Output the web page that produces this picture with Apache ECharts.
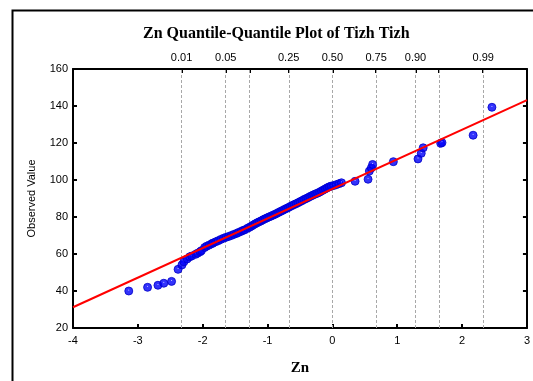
<!DOCTYPE html>
<html>
<head>
<meta charset="utf-8">
<script src="https://cdn.jsdelivr.net/npm/echarts@6/dist/echarts.min.js"></script>
<style>html,body{margin:0;padding:0;background:#fff}#c{width:533px;height:381px}</style>
</head>
<body>
<div id="c"></div>
<script>
// Theoretical normal quantiles (x) and observed values (y)
const qqX = [-3.14,-2.85,-2.69,-2.60,-2.48,-2.38,-2.32,-2.29,-2.24,-2.20,-2.17,-2.11,-2.08,-2.04,-2.02,-1.97,-1.94,-1.90,-1.86,-1.84,-1.80,-1.76,-1.72,-1.68,-1.64,-1.60,-1.56,-1.52,-1.48,-1.45,-1.41,-1.38,-1.35,-1.31,-1.28,-1.25,-1.22,-1.19,-1.16,-1.13,-1.10,-1.07,-1.04,-1.01,-0.98,-0.95,-0.92,-0.89,-0.86,-0.83,-0.80,-0.77,-0.74,-0.71,-0.68,-0.65,-0.62,-0.59,-0.56,-0.53,-0.50,-0.47,-0.44,-0.41,-0.38,-0.35,-0.32,-0.29,-0.26,-0.23,-0.20,-0.17,-0.14,-0.11,-0.08,-0.05,-0.02,0.02,0.06,0.10,0.14,0.35,0.55,0.57,0.60,0.62,0.94,1.32,1.37,1.40,1.67,1.69,2.17,2.46];
const qqY = [40.0,42.0,43.1,44.2,45.2,51.7,54.1,55.8,57.3,58.5,58.9,59.8,60.4,61.2,61.8,63.5,64.2,64.8,65.6,65.9,66.6,67.2,67.9,68.5,69.0,69.5,70.0,70.6,71.1,71.6,72.2,72.7,73.1,73.9,74.4,75.0,75.7,76.3,76.9,77.4,77.9,78.5,79.0,79.5,80.0,80.4,80.9,81.4,81.9,82.5,83.0,83.5,84.1,84.6,85.1,85.7,86.2,86.7,87.2,87.7,88.3,88.8,89.4,89.9,90.4,91.0,91.5,92.0,92.5,92.9,93.4,94.0,94.6,95.2,95.8,96.3,96.7,97.0,97.5,98.0,98.5,99.3,100.4,104.8,106.5,108.4,109.9,111.4,114.4,117.4,119.8,120.2,124.2,139.3];

// Fitted reference line
const fitIntercept = 95.2;
const fitSlope = 16.0;

// Axis ranges
const xMin = -4, xMax = 3, xStep = 1;
const yMin = 20, yMax = 160, yStep = 20;

// Probability scale along the top
const gridProbs = ['0.01','0.05','0.10','0.25','0.50','0.75','0.90','0.95','0.99'];
const gridZ = [-2.326,-1.645,-1.282,-0.674,0,0.674,1.282,1.645,2.326];
const labelProbs = ['0.01','0.05','0.25','0.50','0.75','0.90','0.99'];
const labelZ = [-2.326,-1.645,-0.674,0,0.674,1.282,2.326];

const points = qqX.map((x, i) => [x, qqY[i]]);
const fitData = [[xMin, fitIntercept + fitSlope * xMin], [xMax, fitIntercept + fitSlope * xMax]];

const sans = 'Liberation Sans, Arial, sans-serif';
const serif = 'Liberation Serif, Times New Roman, serif';

const chart = echarts.init(document.getElementById('c'), null, {renderer: 'canvas'});
chart.setOption({
  animation: false,
  backgroundColor: '#fff',
  graphic: [{
    type: 'rect', left: 10, top: 8, z: 100,
    shape: {x: 0, y: 0, width: 700, height: 700},
    style: {fill: 'none', stroke: '#000', lineWidth: 2}
  }],
  title: {
    text: 'Zn Quantile-Quantile Plot of Tizh Tizh',
    left: 138, top: 21,
    textStyle: {fontFamily: serif, fontWeight: 'bold', fontSize: 16, color: '#000'}
  },
  grid: {left: 73, right: 6, top: 69, bottom: 53, containLabel: false},
  xAxis: [{
    type: 'value', position: 'bottom', min: xMin, max: xMax, interval: xStep,
    name: 'Zn', nameLocation: 'middle', nameGap: 33,
    nameTextStyle: {fontFamily: serif, fontWeight: 'bold', fontSize: 15, color: '#000'},
    axisLine: {show: true, onZero: false, lineStyle: {color: '#000', width: 2}},
    axisTick: {show: true, inside: true, length: 4, lineStyle: {color: '#000', width: 2}},
    axisLabel: {fontFamily: sans, fontSize: 11, color: '#000', margin: 7},
    splitLine: {show: false}
  }, {
    type: 'value', position: 'top', min: xMin, max: xMax,
    axisLine: {show: true, onZero: false, lineStyle: {color: '#000', width: 2}},
    axisTick: {show: true, inside: true, length: 4, customValues: gridZ, lineStyle: {color: '#000', width: 2}},
    axisLabel: {
      show: true, customValues: labelZ, fontFamily: sans, fontSize: 11, color: '#000', margin: 6,
      formatter: function (v) {
        let best = 0, d = Infinity;
        labelZ.forEach((z, i) => { if (Math.abs(z - v) < d) { d = Math.abs(z - v); best = i; } });
        return labelProbs[best];
      }
    },
    splitLine: {show: false}
  }],
  yAxis: [{
    type: 'value', position: 'left', min: yMin, max: yMax, interval: yStep,
    name: 'Observed Value', nameLocation: 'middle', nameGap: 36, nameRotate: 90,
    nameTextStyle: {fontFamily: sans, fontSize: 11, color: '#000'},
    axisLine: {show: true, onZero: false, lineStyle: {color: '#000', width: 2}},
    axisTick: {show: true, inside: true, length: 4, lineStyle: {color: '#000', width: 2}},
    axisLabel: {fontFamily: sans, fontSize: 11, color: '#000', margin: 5},
    splitLine: {show: false}
  }, {
    type: 'value', position: 'right', min: yMin, max: yMax, interval: yStep,
    axisLine: {show: true, onZero: false, lineStyle: {color: '#000', width: 2}},
    axisTick: {show: true, inside: true, length: 4, lineStyle: {color: '#000', width: 2}},
    axisLabel: {show: false},
    splitLine: {show: false}
  }],
  series: [{
    type: 'scatter', xAxisIndex: 0, yAxisIndex: 0, data: points,
    symbol: 'circle', symbolSize: 8, z: 3,
    itemStyle: {
      color: {type: 'radial', x: 0.5, y: 0.4, r: 0.6, colorStops: [
        {offset: 0, color: '#b0b0ff'}, {offset: 0.18, color: '#0000ff'}, {offset: 1, color: '#0000ee'}]},
      borderColor: '#0000cc', borderWidth: 1
    },
    markLine: {
      silent: true, symbol: ['none', 'none'], z: 1,
      label: {show: false},
      lineStyle: {color: '#a8a8a8', type: [3, 2], width: 1},
      data: gridZ.map(z => ({xAxis: z}))
    }
  }, {
    type: 'line', xAxisIndex: 0, yAxisIndex: 0, data: fitData,
    showSymbol: false, symbol: 'none', z: 5,
    lineStyle: {color: '#ff0000', width: 2}
  }]
});
</script>
</body>
</html>
